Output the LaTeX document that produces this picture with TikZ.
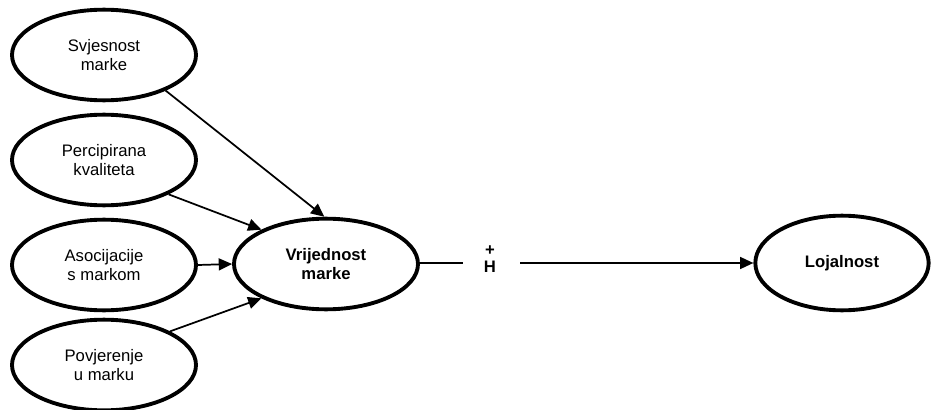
\documentclass[tikz,border=0pt]{standalone}
\usepackage{fontspec}
\setmainfont{Liberation Sans}
\usetikzlibrary{shapes.geometric,arrows.meta}
\begin{document}
\begin{tikzpicture}[x=0.75pt,y=-0.75pt,
  ell/.style={ellipse,draw=black,line width=2.9pt,minimum width=#1,
    minimum height=68pt,inner sep=0pt,align=center,
    font=\fontsize{12.5}{14.5}\selectfont},
  ell/.default=138pt,
  conn/.style={line width=1.3pt,-{Triangle[length=10pt,width=9pt]}},
  plain/.style={line width=1.3pt}]
\useasboundingbox (0,0) rectangle (932,410);
\node[ell] (s) at (104,55) {Svjesnost\\marke};
\node[ell] (p) at (104,160) {Percipirana\\kvaliteta};
\node[ell] (a) at (104,265) {Asocijacije\\s markom};
\node[ell] (u) at (104,365) {Povjerenje\\u marku};
\node[ell, font=\fontsize{12.5}{14.5}\selectfont\bfseries] (v) at (326,264) {Vrijednost\\marke};
\node[ell=130pt, minimum height=71pt, font=\fontsize{12.5}{14.5}\selectfont\bfseries] (l) at (842,263) {Lojalnost};
\node[align=center,inner sep=0pt,font=\fontsize{12.5}{13}\selectfont\bfseries] (h) at (490,259) {+\\H};
\coordinate (h1) at (463,263);
\coordinate (h2) at (520,263);
\draw[conn] (s.-30) -- (v.92);
\draw[conn] (p.-28) -- (v.152);
\draw[conn] (a.east) -- (v.west);
\draw[conn] (u.27) -- (v.-152);
\draw[plain] (v.east |- h1) -- (h1);
\draw[conn] (h2) -- (l.west |- h2);
\end{tikzpicture}
\end{document}
